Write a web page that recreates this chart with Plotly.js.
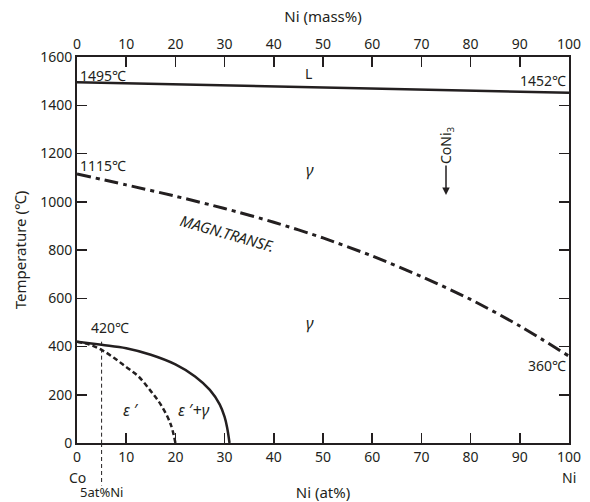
<!DOCTYPE html>
<html>
<head>
<meta charset="utf-8">
<script src="https://cdn.plot.ly/plotly-3.0.1.min.js"></script>
<style>html,body{margin:0;padding:0;background:#fff;}#chart{width:590px;height:502px;}</style>
</head>
<body>
<div id="chart"></div>
<script>
// Liquidus (solid line)
const liqX = [0, 100];
const liqT = [1495, 1452];
// Magnetic transformation (dash-dot)
const magX = [0, 10, 20, 30, 40, 50, 60, 70, 80, 90, 100];
const magT = [1115, 1070, 1023, 972, 915, 850, 775, 690, 595, 485, 360];
// gamma / (eps'+gamma) boundary (solid)
const gamX = [0, 5, 10, 15, 20, 24, 27, 29, 30, 30.5, 31];
const gamT = [420, 407, 393, 366, 326, 276, 220, 160, 108, 65, 0];
// eps' / (eps'+gamma) boundary (dashed)
const epsX = [0, 2.5, 5, 7.5, 10, 12.5, 15, 17, 19, 20];
const epsT = [420, 408, 386, 353, 315, 276, 215, 160, 80, 0];
// 5 at% Ni marker
const markNi = 5;
const markT = 420;
// axis ticks
const tickX = [0, 10, 20, 30, 40, 50, 60, 70, 80, 90, 100];
const tickT = [0, 200, 400, 600, 800, 1000, 1200, 1400, 1600];

const ink = '#231f20';
const fnt = 'Noto Sans, Open Sans, sans-serif';

const traces = [
  {x: liqX, y: liqT, mode: 'lines', line: {color: ink, width: 2.5}, hoverinfo: 'skip'},
  {x: magX, y: magT, mode: 'lines', line: {color: ink, width: 3, dash: '14px,5px,4px,5px', shape: 'spline', smoothing: 0.8}, hoverinfo: 'skip'},
  {x: gamX, y: gamT, mode: 'lines', line: {color: ink, width: 2.5, shape: 'spline'}, hoverinfo: 'skip'},
  {x: epsX, y: epsT, mode: 'lines', line: {color: ink, width: 2.5, dash: '5px,3px', shape: 'spline'}, hoverinfo: 'skip'},
  {x: [tickX[0], tickX[tickX.length-1]], y: [0, 0], xaxis: 'x2', yaxis: 'y', mode: 'markers', marker: {opacity: 0}, hoverinfo: 'skip'}
];

function ann(text, x, y, opts) {
  return Object.assign({text: text, x: x, y: y, xref: 'x', yref: 'y', showarrow: false,
    xanchor: 'center', yanchor: 'middle',
    font: {family: fnt, size: 14, color: ink}}, opts || {});
}

const bigF = {family: fnt, size: 16, color: ink};

const annotations = [
  ann('1495℃', 0.3, 1525, {xanchor: 'left'}),
  ann('L', 47, 1530),
  ann('1452℃', 99.7, 1503, {xanchor: 'right'}),
  ann('<i>γ</i>', 47.4, 1132, {font: bigF}),
  ann('1115℃', 0.3, 1150, {xanchor: 'left'}),
  ann('<i>MAGN.TRANSF.</i>', 30.5, 872, {textangle: 16, font: {family: fnt, size: 15, color: ink}}),
  ann('<i>γ</i>', 47.4, 497, {font: bigF}),
  ann('420℃', 6.7, 477),
  ann('360℃', 99.7, 322, {xanchor: 'right'}),
  ann('<i>ε</i> ′', 11, 135, {font: bigF}),
  ann('<i>ε</i> ′+<i>γ</i>', 23.8, 135, {font: bigF}),
  ann('CoNi<sub>3</sub>', 75, 1028, {showarrow: true, ax: 0, ay: -50, textangle: -90,
    arrowhead: 2, arrowsize: 1, arrowwidth: 1.5, arrowcolor: ink, standoff: 0}),
  ann('Co', 0, -0.09, {yref: 'paper', font: {family: fnt, size: 14, color: ink}}),
  ann('Ni', 100, -0.09, {yref: 'paper', font: {family: fnt, size: 14, color: ink}}),
  ann('5at%Ni', 5, -0.127, {yref: 'paper', font: {family: fnt, size: 13, color: ink}})
];

const shapes = [
  {type: 'line', xref: 'x', yref: 'y', x0: markNi, x1: markNi, y0: markT, y1: 0,
   line: {color: ink, width: 1, dash: '4px,3px'}},
  {type: 'line', xref: 'x', yref: 'paper', x0: markNi, x1: markNi, y0: 0, y1: -0.11,
   line: {color: ink, width: 1, dash: '4px,3px'}}
];

const axisCommon = {
  showgrid: false, zeroline: false, showline: true, linecolor: ink, linewidth: 2,
  ticks: 'inside', ticklen: 10, tickwidth: 1.5, tickcolor: ink,
  tickfont: {family: fnt, size: 14, color: ink}
};

const layout = {
  width: 590, height: 502,
  margin: {l: 77, r: 21, t: 57, b: 59},
  paper_bgcolor: '#fff', plot_bgcolor: '#fff',
  showlegend: false,
  xaxis: Object.assign({}, axisCommon, {range: [0, 100], tickvals: tickX, mirror: false,
    title: {text: 'Ni (at%)', font: {family: fnt, size: 15, color: ink}, standoff: 24}}),
  xaxis2: Object.assign({}, axisCommon, {range: [0, 100], tickvals: tickX, overlaying: 'x', side: 'top', anchor: 'y',
    title: {text: 'Ni (mass%)', font: {family: fnt, size: 15, color: ink}, standoff: 8}}),
  yaxis: Object.assign({}, axisCommon, {range: [0, 1600], tickvals: tickT, mirror: 'ticks',
    title: {text: 'Temperature (℃)', font: {family: fnt, size: 15, color: ink}, standoff: 10}}),
  annotations: annotations,
  shapes: shapes
};

Plotly.newPlot('chart', traces, layout, {displayModeBar: false, staticPlot: true});
</script>
</body>
</html>
